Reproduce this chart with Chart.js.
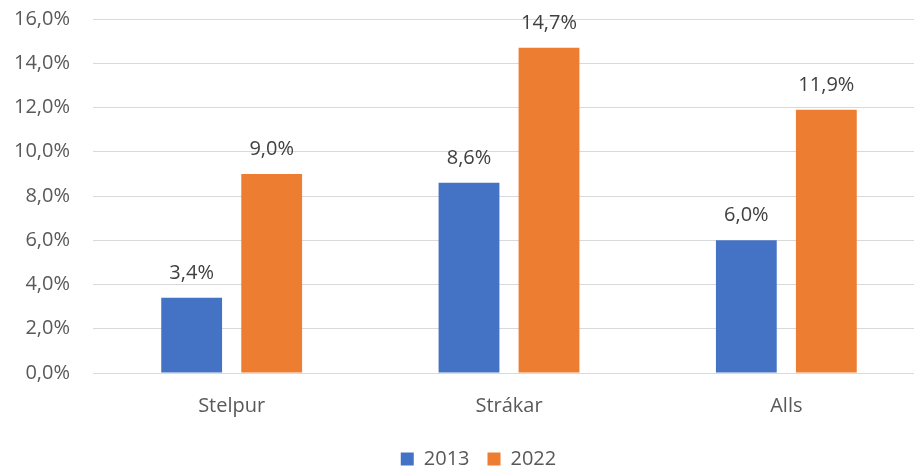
<!DOCTYPE html>
<html>
<head>
<meta charset="utf-8">
<script src="https://cdn.jsdelivr.net/npm/chart.js@4"></script>
<style>
  html, body { margin: 0; padding: 0; background: #fff; overflow: hidden; }
  #wrap { width: 958px; height: 470px; }
</style>
</head>
<body>
<div id="wrap"><canvas id="chart"></canvas></div>
<script>
const flokkar = ["Stelpur", "Strákar", "Alls"];
const ar = ["2013", "2022"];
const gildi2013 = [3.4, 8.6, 6.0];
const gildi2022 = [9.0, 14.7, 11.9];
const yTicks = [0, 2, 4, 6, 8, 10, 12, 14, 16];

const fontFamily = "'Open Sans', sans-serif";
const textColor = "#595959";

function prosenta(v) {
    return v.toFixed(1).replace('.', ',') + '%';
}

// skrifa gildin fyrir ofan súlurnar
const gildiPlugin = {
    id: 'gildi',
    afterDatasetsDraw(chart) {
        const ctx = chart.ctx;
        ctx.save();
        ctx.font = "20px " + fontFamily;
        ctx.fillStyle = "#404040";
        ctx.textAlign = 'center';
        ctx.textBaseline = 'alphabetic';
        chart.data.datasets.forEach((ds, i) => {
            chart.getDatasetMeta(i).data.forEach((bar, j) => {
                ctx.fillText(prosenta(ds.data[j]), bar.x, bar.y - 19);
            });
        });
        ctx.restore();
    }
};

// færa skýringuna aðeins til hægri
const skyringPlugin = {
    id: 'skyring',
    afterLayout(chart) {
        if (chart.legend) {
            chart.legend.left += 10;
            chart.legend.right += 10;
        }
    }
};

const ctx = document.getElementById("chart").getContext('2d');

new Chart(ctx, {
    type: 'bar',
    data: {
        labels: flokkar,
        datasets: [
            { label: ar[0], data: gildi2013, backgroundColor: "#4472C4", borderWidth: 0 },
            { label: ar[1], data: gildi2022, backgroundColor: "#ED7D31", borderWidth: 0 }
        ]
    },
    options: {
        responsive: true,
        maintainAspectRatio: false,
        animation: false,
        categoryPercentage: 0.577,
        barPercentage: 0.76,
        layout: {
            padding: { left: 12, right: 33, top: 19, bottom: -9 }
        },
        scales: {
            x: {
                grid: { display: false, drawTicks: false },
                border: { display: false },
                afterFit: axis => { axis.height = 58; },
                ticks: {
                    color: textColor,
                    font: { family: fontFamily, size: 20 },
                    padding: 21
                }
            },
            y: {
                min: 0,
                max: 16,
                afterBuildTicks: axis => { axis.ticks = yTicks.map(v => ({ value: v })); },
                afterFit: axis => {
                    axis.width = 81;
                    axis.paddingTop = 0;
                    axis.paddingBottom = 0;
                },
                grid: { color: "#d9d9d9", lineWidth: 1, drawTicks: false },
                border: { display: false },
                ticks: {
                    color: textColor,
                    font: { family: fontFamily, size: 20 },
                    padding: 23,
                    callback: v => prosenta(v)
                }
            }
        },
        plugins: {
            legend: {
                position: 'bottom',
                labels: {
                    color: textColor,
                    font: { family: fontFamily, size: 20 },
                    boxWidth: 13,
                    boxHeight: 13,
                    padding: 18
                }
            },
            tooltip: { enabled: false }
        }
    },
    plugins: [gildiPlugin, skyringPlugin]
});
</script>
</body>
</html>
